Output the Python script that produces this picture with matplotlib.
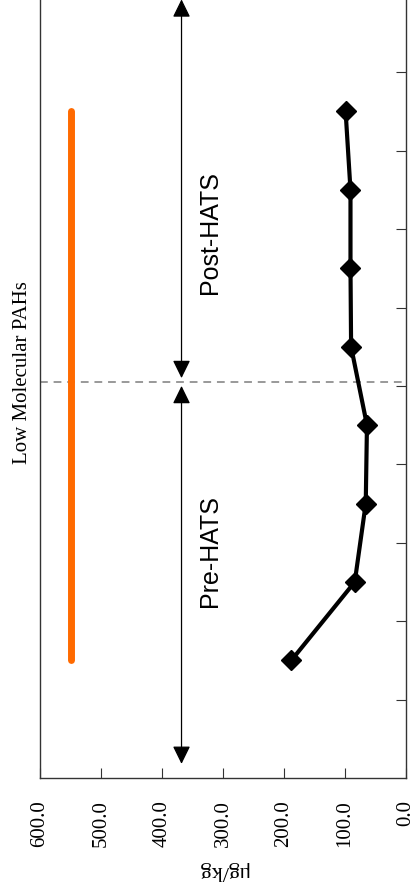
import matplotlib
matplotlib.use('Agg')
import matplotlib.pyplot as plt

# sampling periods (position along the time axis) and concentrations (ug/kg)
periods = [1.5, 2.5, 3.5, 4.5, 5.5, 6.5, 7.5, 8.5]
lmw_pahs = [188, 84, 66, 64, 90, 91, 91, 99]
guideline = 550           # reference level shown as flat orange line
hats_split = 5.05         # HATS start
value_ticks = [600, 500, 400, 300, 200, 100, 0]
period_ticks = [1, 2, 3, 4, 5, 6, 7, 8, 9, 10]

serif = 'Liberation Serif'
sans = 'Liberation Sans'

fig = plt.figure(figsize=(4.17, 8.90), dpi=100)
ax = fig.add_axes([40/417, 112/890, 366/417, 810/890])

ax.plot([guideline] * 2, [periods[0], periods[-1]], color='#ff6a00', lw=5,
        solid_capstyle='round', zorder=2)
ax.plot(lmw_pahs, periods, '-D', color='black', lw=3, ms=10, zorder=3)
ax.axhline(hats_split, color='#999999', ls=(0, (4, 3)), lw=1.4, zorder=1)

# pre / post arrows
arrow_x = 368
aprops = dict(arrowstyle='<|-|>,head_length=0.55,head_width=0.27',
              mutation_scale=20, color='black', lw=0.9,
              shrinkA=0, shrinkB=0)
ax.annotate('', xy=(arrow_x, 5.0), xytext=(arrow_x, 0.18), arrowprops=aprops)
ax.annotate('', xy=(arrow_x, 9.93), xytext=(arrow_x, 5.1), arrowprops=aprops)
ax.text(321, 2.9, 'Pre-HATS', rotation=90, ha='center', va='center',
        fontsize=18, family=sans)
ax.text(321, 6.96, 'Post-HATS', rotation=90, ha='center', va='center',
        fontsize=18, family=sans)

ax.text(628, 5.17, 'Low Molecular PAHs', rotation=90, ha='center',
        va='center', fontsize=15, family=serif, clip_on=False)

ax.set_xlim(600, 0)
ax.set_ylim(0, 10.33)
ax.set_xticks(value_ticks)
ax.set_xticklabels([f'{v:.1f}' for v in value_ticks], rotation=90,
                   fontsize=15, family=serif)
ax.set_yticks(period_ticks)
ax.yaxis.tick_right()
ax.tick_params(axis='y', direction='in', length=7, labelright=False,
               color='#333333')
ax.tick_params(axis='x', direction='in', length=7, pad=16, color='#333333')
ax.set_xlabel('\u03bcg/kg', rotation=180, fontsize=16, family=serif,
              labelpad=10)
for s in ax.spines.values():
    s.set_color('#333333')
    s.set_linewidth(1)
ax.spines['top'].set_visible(False)

plt.savefig('out.png', dpi=100)
